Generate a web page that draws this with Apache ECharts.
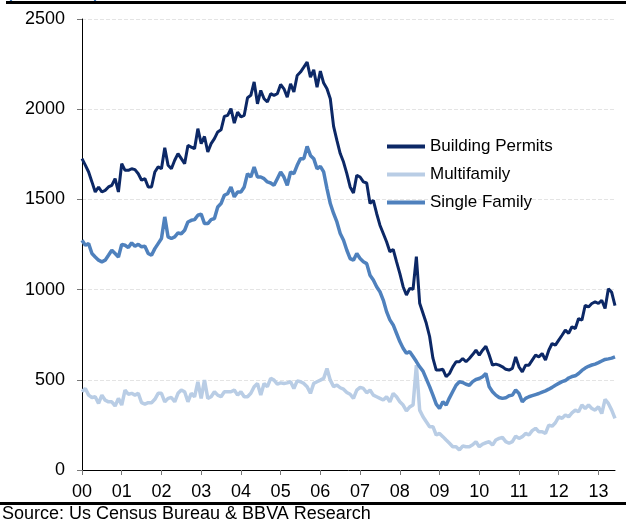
<!DOCTYPE html>
<html>
<head>
<meta charset="utf-8">
<script src="https://cdn.jsdelivr.net/npm/echarts@6/dist/echarts.min.js"></script>
<style>
  html, body { margin: 0; padding: 0; background: #fff; }
  #main { width: 626px; height: 521px; }
</style>
</head>
<body>
<div id="main"></div>
<script>
// tick labels on the x axis (one per year, monthly data underneath)
var years = ['00', '01', '02', '03', '04', '05', '06', '07', '08', '09', '10', '11', '12', '13'];
var monthsInLastYear = 6; // data stops mid 2013

// thousands of units, SAAR
var permits = [
  1726, 1690, 1652, 1597, 1541, 1569, 1541, 1550, 1569, 1578, 1615, 1541,
  1698, 1661, 1661, 1670, 1665, 1642, 1606, 1615, 1569, 1569, 1652, 1680,
  1670, 1786, 1689, 1670, 1717, 1754, 1726, 1698, 1799, 1790, 1781, 1892,
  1809, 1849, 1763, 1809, 1837, 1874, 1886, 1960, 1966, 2003, 1923, 1984,
  1957, 1966, 2064, 2077, 2151, 2030, 2104, 2058, 2040, 2086, 2077, 2086,
  2137, 2113, 2067, 2141, 2095, 2187, 2206, 2233, 2261, 2178, 2218, 2122,
  2211, 2145, 2113, 2058, 1905, 1827, 1754, 1707, 1643, 1569, 1536, 1634,
  1624, 1597, 1591, 1477, 1495, 1422, 1357, 1311, 1265, 1210, 1223, 1155,
  1090, 1016, 970, 1007, 1002, 1183, 924, 869, 813, 740, 620, 554,
  554, 558, 517, 535, 572, 600, 600, 618, 600, 618, 640, 664,
  637, 664, 686, 637, 581, 587, 581, 572, 558, 554, 563, 627,
  572, 544, 581, 581, 609, 637, 627, 646, 609, 664, 701, 692,
  720, 747, 775, 757, 794, 784, 840, 830, 913, 904, 923, 932,
  923, 941, 895, 1005, 985, 911
];
var multifamily = [
  434, 452, 415, 402, 406, 369, 415, 387, 378, 378, 355, 397,
  360, 443, 420, 425, 415, 425, 373, 365, 373, 373, 392, 425,
  425, 378, 397, 402, 378, 425, 443, 434, 378, 425, 406, 489,
  397, 498, 397, 406, 434, 415, 406, 434, 434, 434, 443, 415,
  434, 406, 406, 425, 462, 480, 415, 480, 462, 508, 498, 476,
  483, 480, 483, 489, 452, 494, 489, 480, 462, 425, 480, 489,
  498, 508, 563, 498, 462, 471, 456, 448, 430, 420, 397, 443,
  458, 452, 428, 443, 415, 406, 397, 388, 406, 378, 424, 406,
  378, 360, 328, 350, 360, 581, 332, 295, 267, 240, 240, 194,
  203, 185, 166, 148, 129, 129, 111, 133, 129, 129, 140, 157,
  129, 144, 151, 157, 138, 166, 175, 181, 157, 148, 157, 188,
  175, 185, 203, 194, 218, 231, 212, 212, 203, 249, 243, 262,
  295, 286, 305, 295, 317, 332, 323, 360, 341, 360, 341, 332,
  350, 313, 391, 369, 332, 286
];
var singleFamily = [
  1274, 1246, 1255, 1200, 1181, 1163, 1154, 1163, 1190, 1218, 1200, 1181,
  1251, 1246, 1233, 1259, 1240, 1251, 1237, 1240, 1200, 1190, 1227, 1255,
  1283, 1403, 1292, 1283, 1292, 1314, 1310, 1329, 1375, 1384, 1388, 1412,
  1418, 1366, 1366, 1388, 1394, 1458, 1477, 1523, 1532, 1569, 1514, 1541,
  1541, 1569, 1643, 1624, 1680, 1624, 1624, 1615, 1597, 1591, 1578, 1615,
  1652, 1624, 1578, 1652, 1643, 1689, 1726, 1726, 1794, 1744, 1726, 1670,
  1683, 1652, 1560, 1477, 1422, 1375, 1311, 1274, 1218, 1172, 1163, 1200,
  1172, 1154, 1144, 1080, 1053, 1016, 988, 942, 878, 832, 804, 758,
  712, 675, 647, 656, 629, 601, 572, 548, 505, 462, 415, 365,
  341, 378, 360, 400, 435, 470, 489, 485, 475, 470, 490, 502,
  507, 517, 535, 461, 434, 415, 402, 397, 400, 412, 415, 443,
  424, 378, 397, 406, 412, 418, 424, 432, 439, 448, 458, 470,
  480, 490, 496, 510, 518, 522, 535, 552, 565, 575, 582, 587,
  595, 604, 613, 616, 620, 627
];

// monthly categories, label = year
var months = [];
years.forEach(function (y, k) {
  var n = k === years.length - 1 ? monthsInLastYear : 12;
  for (var m = 1; m <= n; m++) months.push(y + '-' + m);
});

var font = '"Liberation Sans", Arial, sans-serif';
function yearStart(index) {
  return index % 12 === 0;
}

var chart = echarts.init(document.getElementById('main'));
var option = {
  animation: false,
  backgroundColor: '#fff',
  textStyle: { fontFamily: font },
  grid: { left: 82, right: 11, top: 19, bottom: 51 },
  legend: {
    orient: 'vertical',
    left: 387,
    top: 138,
    padding: 0,
    itemWidth: 38,
    itemHeight: 4,
    itemGap: 11,
    icon: 'rect',
    textStyle: { fontSize: 17, color: '#000', fontFamily: font },
    data: ['Building Permits', 'Multifamily', 'Single Family'],
  },
  xAxis: {
    type: 'category',
    data: months,
    boundaryGap: false,
    axisLine: { lineStyle: { color: '#000', width: 1 } },
    axisTick: { interval: yearStart, length: 5, lineStyle: { color: '#777' } },
    axisLabel: {
      interval: yearStart,
      formatter: function (v) { return v.slice(0, 2); },
      fontSize: 18,
      color: '#000',
      margin: 13,
      fontFamily: font,
    },
    splitLine: { show: false },
  },
  yAxis: {
    type: 'value',
    min: 0,
    max: 2500,
    interval: 500,
    axisLine: { show: true, lineStyle: { color: '#000', width: 1 } },
    axisTick: { show: true, length: 5, lineStyle: { color: '#777' } },
    axisLabel: {
      formatter: function (v) { return String(v); },
      fontSize: 18,
      color: '#000',
      margin: 17,
      fontFamily: font,
    },
    splitLine: { lineStyle: { color: '#e4e4e4', type: 'dashed', width: 1 } },
  },
  series: [
    {
      name: 'Building Permits',
      type: 'line',
      data: permits,
      symbol: 'none',
      lineStyle: { width: 3, color: '#0c2866' },
      itemStyle: { color: '#0c2866' },
    },
    {
      name: 'Multifamily',
      type: 'line',
      data: multifamily,
      symbol: 'none',
      lineStyle: { width: 3.5, color: '#b9cde5' },
      itemStyle: { color: '#b9cde5' },
    },
    {
      name: 'Single Family',
      type: 'line',
      data: singleFamily,
      symbol: 'none',
      lineStyle: { width: 3.5, color: '#4f81bd' },
      itemStyle: { color: '#4f81bd' },
    },
  ],
  graphic: [
    // heading cut off at the top of the picture
    {
      type: 'text',
      left: 8,
      top: -13,
      style: { text: '(Thousands)', font: 'bold 15px ' + font, fill: '#2f6db5' },
    },
    { type: 'rect', shape: { x: 6, y: 1, width: 620, height: 3 }, style: { fill: '#000' } },
    { type: 'rect', shape: { x: 0, y: 502, width: 626, height: 3 }, style: { fill: '#000' } },
    {
      type: 'text',
      left: 2,
      top: 505,
      style: { text: 'Source: Us Census Bureau & BBVA Research', font: '18px ' + font, fill: '#000' },
    },
  ],
};
chart.setOption(option);
</script>
</body>
</html>
